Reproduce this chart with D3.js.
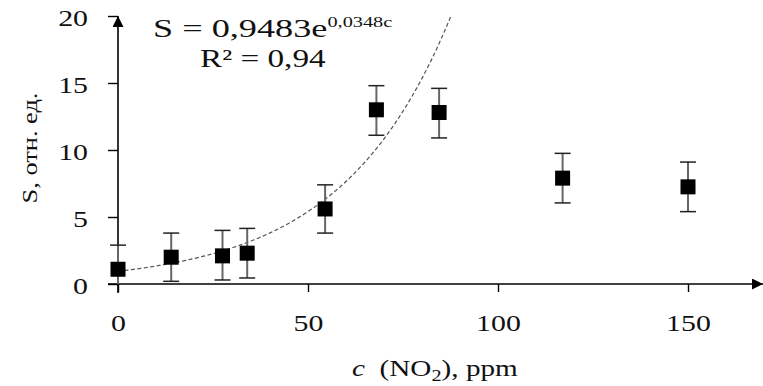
<!DOCTYPE html>
<html>

<head>
    <meta charset="utf-8">
    <title>S vs c(NO2)</title>
    <script type="text/javascript" src="https://d3js.org/d3.v7.min.js"></script>

    <style>
        body {
            margin: 0;
            background: #fff;
        }

        svg {
            display: block;
        }
    </style>

</head>

<body>
</body>

<script type="text/javascript">
    //Width and height
    var w = 763;
    var h = 386;
    var serif = "Liberation Serif";

    //Data
    var conc = [0, 14, 27.5, 34, 54.5, 68, 84.5, 117, 150];
    var signal = [1.1, 2.0, 2.1, 2.3, 5.6, 13.0, 12.8, 7.9, 7.25];
    var errUp = [1.8, 1.8, 1.9, 1.85, 1.8, 1.8, 1.8, 1.85, 1.85];
    var errDown = [1.8, 1.8, 1.8, 1.85, 1.8, 1.9, 1.9, 1.85, 1.85];
    var xTicks = [0, 50, 100, 150];
    var yTicks = [0, 5, 10, 15, 20];

    //Fit parameters (from the equation)
    var fitA = 0.9483;
    var fitB = 0.0348;

    //the original picture is stretched sideways, so text is widened too
    var sx = 1.3;

    function stretch(sel, k) {
        sel.each(function() {
            var t = d3.select(this);
            var ax = +t.attr("x") || 0;
            t.attr("transform", "translate(" + ax + ",0) scale(" + k + ",1) translate(" + (-ax) + ",0)");
        });
    }

    var svg = d3.select("body")
        .append("svg")
        .attr("width", w)
        .attr("height", h)
        .attr("font-family", serif);

    var x = d3.scaleLinear().domain([0, 150]).range([118, 688]);
    var y = d3.scaleLinear().domain([0, 20]).range([284, 16]);

    //Arrow heads
    var defs = svg.append("defs");
    defs.append("marker")
        .attr("id", "arrow")
        .attr("viewBox", "0 0 10 10")
        .attr("refX", 10)
        .attr("refY", 5)
        .attr("markerWidth", 13)
        .attr("markerHeight", 11)
        .attr("markerUnits", "userSpaceOnUse")
        .attr("orient", "auto")
        .append("path")
        .attr("d", "M0,0 L10,5 L0,10 Z")
        .attr("fill", "#000");

    //Axes
    var xAxis = d3.axisBottom(x).tickValues(xTicks).tickSize(8).tickFormat(d3.format("d"));
    var yAxis = d3.axisLeft(y).tickValues(yTicks).tickSize(10).tickFormat(d3.format("d"));

    var gx = svg.append("g")
        .attr("transform", "translate(0," + y(0) + ")")
        .call(xAxis)
        .attr("font-family", serif);
    gx.select(".domain").remove();
    gx.selectAll("text")
        .attr("y", 47)
        .attr("dy", 0)
        .attr("font-size", 23)
        .attr("font-family", serif)
        .attr("fill", "#111");
    stretch(gx.selectAll("text"), sx);
    gx.selectAll("line").attr("stroke", "#000").attr("stroke-width", 1.4);

    var gy = svg.append("g")
        .attr("transform", "translate(" + x(0) + ",0)")
        .call(yAxis)
        .attr("font-family", serif);
    gy.select(".domain").remove();
    gy.selectAll("text")
        .attr("x", -30)
        .attr("dy", "0.42em")
        .attr("font-size", 23)
        .attr("font-family", serif)
        .attr("fill", "#111");
    stretch(gy.selectAll("text"), sx);
    gy.selectAll("line").attr("stroke", "#000").attr("stroke-width", 1.4);

    //Axis lines with arrows
    svg.append("line")
        .attr("x1", x(0) - 10).attr("y1", y(0))
        .attr("x2", 763).attr("y2", y(0))
        .attr("stroke", "#000").attr("stroke-width", 1.6)
        .attr("marker-end", "url(#arrow)");
    svg.append("line")
        .attr("x1", x(0)).attr("y1", y(0) + 9)
        .attr("x2", x(0)).attr("y2", 16)
        .attr("stroke", "#000").attr("stroke-width", 1.6)
        .attr("marker-end", "url(#arrow)");

    //Fit curve, up to where it leaves the plot
    var cMax = Math.log(20 / fitA) / fitB;
    var fitPts = d3.range(0, cMax, 0.5).concat([cMax]).map(function(c) {
        return [c, fitA * Math.exp(fitB * c)];
    });
    svg.append("path")
        .datum(fitPts)
        .attr("fill", "none")
        .attr("stroke", "#555")
        .attr("stroke-width", 1.2)
        .attr("stroke-dasharray", "4,2.5")
        .attr("d", d3.line()
            .x(function(d) { return x(d[0]); })
            .y(function(d) { return y(d[1]); }));

    //Error bars
    var points = conc.map(function(c, i) {
        return { c: c, s: signal[i], hi: signal[i] + errUp[i], lo: Math.max(0, signal[i] - errDown[i]) };
    });

    var bars = svg.append("g").selectAll("g")
        .data(points)
        .enter()
        .append("g");

    bars.append("line")
        .attr("x1", function(d) { return x(d.c); })
        .attr("x2", function(d) { return x(d.c); })
        .attr("y1", function(d) { return y(d.hi); })
        .attr("y2", function(d) { return y(d.lo); })
        .attr("stroke", "#666")
        .attr("stroke-width", 2);

    bars.append("line")
        .attr("x1", function(d) { return x(d.c) - 8; })
        .attr("x2", function(d) { return x(d.c) + 8; })
        .attr("y1", function(d) { return y(d.hi); })
        .attr("y2", function(d) { return y(d.hi); })
        .attr("stroke", "#222")
        .attr("stroke-width", 1.5);

    bars.filter(function(d, i) { return i > 0; })
        .append("line")
        .attr("x1", function(d) { return x(d.c) - 8; })
        .attr("x2", function(d) { return x(d.c) + 8; })
        .attr("y1", function(d) { return y(d.lo); })
        .attr("y2", function(d) { return y(d.lo); })
        .attr("stroke", "#222")
        .attr("stroke-width", 1.5);

    //Square markers
    svg.append("g").selectAll("rect")
        .data(points)
        .enter()
        .append("rect")
        .attr("x", function(d) { return x(d.c) - 7.5; })
        .attr("y", function(d) { return y(d.s) - 7.5; })
        .attr("width", 15)
        .attr("height", 15)
        .attr("fill", "#000");

    //Equation
    var eq = svg.append("text")
        .attr("x", 153)
        .attr("y", 37)
        .attr("font-size", 25)
        .attr("fill", "#111");
    eq.append("tspan").text("S = 0,9483e");
    eq.append("tspan")
        .attr("font-size", 14)
        .attr("dy", -10)
        .text("0,0348c");

    var r2 = svg.append("text")
        .attr("x", 200)
        .attr("y", 67)
        .attr("font-size", 25)
        .attr("fill", "#111")
        .text("R\u00b2 = 0,94");

    stretch(eq, 1.45);
    stretch(r2, 1.33);

    //Axis titles
    var xt = svg.append("text")
        .attr("x", 352)
        .attr("y", 376)
        .attr("font-size", 23)
        .attr("fill", "#111");
    xt.append("tspan").attr("font-style", "italic").text("c");
    xt.append("tspan").text("\u00a0 (NO");
    xt.append("tspan").attr("font-size", 16).attr("dy", 5).text("2");
    xt.append("tspan").attr("dy", -5).text("), ppm");
    stretch(xt, 1.27);

    svg.append("text")
        .attr("transform", "translate(37,148) rotate(-90) scale(1.2,1)")
        .attr("text-anchor", "middle")
        .attr("font-size", 22)
        .attr("fill", "#111")
        .text("S, отн. ед.");
</script>

</html>
